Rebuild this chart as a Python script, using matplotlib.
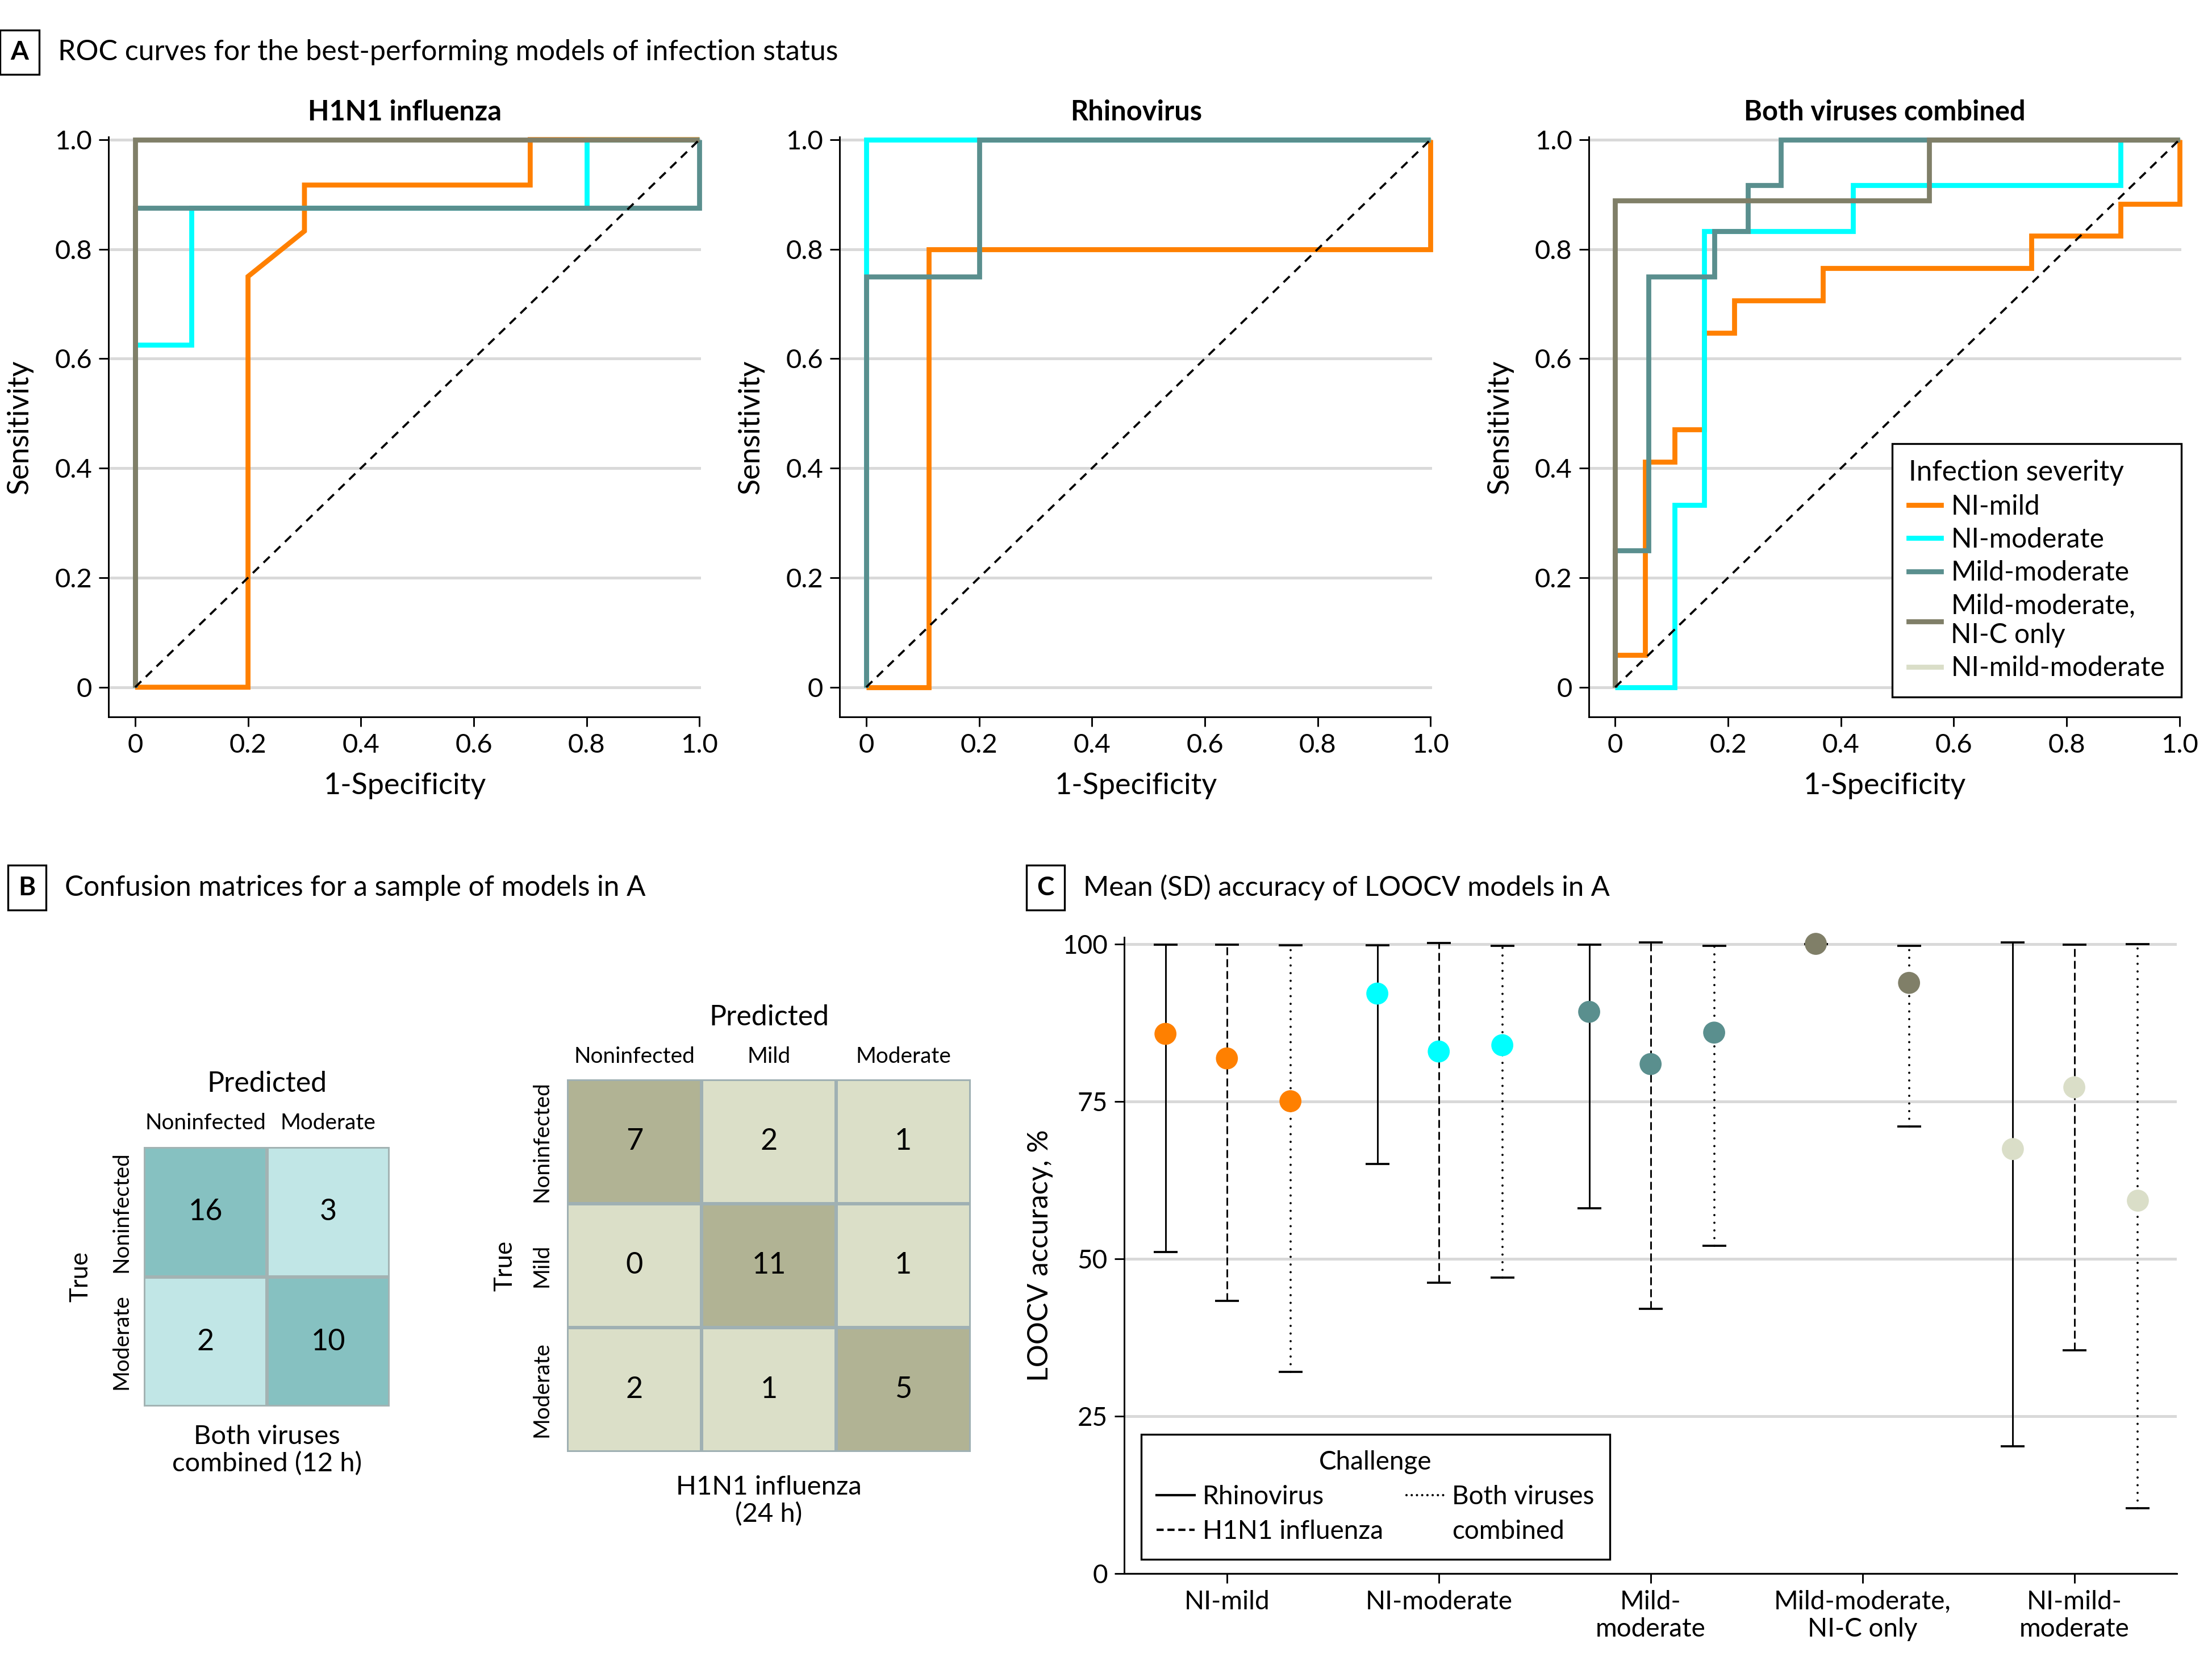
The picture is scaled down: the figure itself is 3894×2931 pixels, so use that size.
import numpy as np
import matplotlib
matplotlib.use("Agg")
import matplotlib.pyplot as plt
import matplotlib.transforms as mtransforms
from matplotlib.lines import Line2D
from matplotlib.colors import ListedColormap

plt.rcParams['font.family'] = ['Lato', 'DejaVu Sans']

# ---------------- data ----------------
severity = ["NI-mild", "NI-moderate", "Mild-moderate", "Mild-moderate,\nNI-C only", "NI-mild-moderate"]
sev_colors = ["#FF8000", "#00FFFF", "#5A8F8E", "#807F68", "#DADEC8"]

# ROC curves (1-specificity, sensitivity) per severity model
h1n1_fpr = [[0, 0.2, 0.2, 0.3, 0.3, 0.7, 0.7, 1.0],
            [0, 0, 0.1, 0.1, 0.8, 0.8, 1.0],
            [0, 0, 1.0, 1.0],
            [0, 0, 1.0]]
h1n1_tpr = [[0, 0, 0.75, 0.833, 0.917, 0.917, 1.0, 1.0],
            [0, 0.625, 0.625, 0.875, 0.875, 1.0, 1.0],
            [0, 0.875, 0.875, 1.0],
            [0, 1.0, 1.0]]

rhino_fpr = [[0, 0.111, 0.111, 1.0, 1.0],
             [0, 0, 1.0],
             [0, 0, 0.2, 0.2, 1.0]]
rhino_tpr = [[0, 0, 0.8, 0.8, 1.0],
             [0, 1.0, 1.0],
             [0, 0.75, 0.75, 1.0, 1.0]]

both_fpr = [[0, 0, 0.053, 0.053, 0.105, 0.105, 0.158, 0.158, 0.211, 0.211, 0.368, 0.368, 0.737, 0.737, 0.895, 0.895, 1.0, 1.0],
            [0, 0.105, 0.105, 0.158, 0.158, 0.421, 0.421, 0.895, 0.895, 1.0],
            [0, 0, 0.059, 0.059, 0.176, 0.176, 0.235, 0.235, 0.294, 0.294, 1.0],
            [0, 0, 0.556, 0.556, 1.0]]
both_tpr = [[0, 0.059, 0.059, 0.412, 0.412, 0.471, 0.471, 0.647, 0.647, 0.706, 0.706, 0.765, 0.765, 0.824, 0.824, 0.882, 0.882, 1.0],
            [0, 0, 0.333, 0.333, 0.833, 0.833, 0.917, 0.917, 1.0, 1.0],
            [0, 0.25, 0.25, 0.75, 0.75, 0.833, 0.833, 0.917, 0.917, 1.0, 1.0],
            [0, 0.889, 0.889, 1.0, 1.0]]

roc_titles = ["H1N1 influenza", "Rhinovirus", "Both viruses combined"]
roc_ticks = [0, 0.2, 0.4, 0.6, 0.8, 1.0]
roc_ticklabels = ["0", "0.2", "0.4", "0.6", "0.8", "1.0"]

# Confusion matrices
cm1 = np.array([[16, 3], [2, 10]])
cm1_labels = ["Noninfected", "Moderate"]
cm2 = np.array([[7, 2, 1], [0, 11, 1], [2, 1, 5]])
cm2_labels = ["Noninfected", "Mild", "Moderate"]

# LOOCV accuracy (mean and SD range), per severity group, per challenge
groups = ["NI-mild", "NI-moderate", "Mild-\nmoderate", "Mild-moderate,\nNI-C only", "NI-mild-\nmoderate"]
challenges = ["Rhinovirus", "H1N1 influenza", "Both viruses\ncombined"]
nan = np.nan
acc_mean = np.array([[85.7, 92.1, 89.2, nan, 67.4],
                     [81.8, 82.9, 80.9, 100.0, 77.2],
                     [75.0, 83.9, 85.9, 93.8, 59.2]])
acc_low = np.array([[51.0, 65.0, 58.0, nan, 20.2],
                    [43.3, 46.2, 42.0, 100.0, 35.4],
                    [32.0, 47.0, 52.0, 71.0, 10.3]])
acc_high = np.array([[99.9, 99.8, 99.9, nan, 100.2],
                     [99.9, 100.1, 100.2, 100.0, 99.9],
                     [99.8, 99.7, 99.7, 99.7, 100.0]])

# ---------------- figure ----------------
fig = plt.figure(figsize=(3894 / 300, 2931 / 300), dpi=300)
FS = 11

def panel_label(x, y, letter, title, tsize):
    fig.text(x, y, letter, fontsize=FS, fontweight='bold', ha='center', va='center',
             bbox=dict(boxstyle='square,pad=0.4', fc='white', ec='black', lw=0.8))
    fig.text(x + 0.0172, y, title, fontsize=tsize, ha='left', va='center')

panel_label(0.0089, 0.9686, "A", "ROC curves for the best-performing models of infection status", 12.0)
panel_label(0.0121, 0.4669, "B", "Confusion matrices for a sample of models in A", 11.9)
panel_label(0.4726, 0.4669, "C", "Mean (SD) accuracy of LOOCV models in A", 11.7)

# ---------------- Panel A ----------------
roc_sets = [(h1n1_fpr, h1n1_tpr), (rhino_fpr, rhino_tpr), (both_fpr, both_tpr)]
lefts = [0.0491, 0.3796, 0.7182]
for k, (fprs, tprs) in enumerate(roc_sets):
    ax = fig.add_axes([lefts[k], 0.5695, 0.2679, 0.3483])
    for i, (fx, ty) in enumerate(zip(fprs, tprs)):
        ax.plot(fx, ty, color=sev_colors[i], lw=2.1, solid_joinstyle='miter',
                solid_capstyle='butt', zorder=3 + i * 0.1, clip_on=False)
    ax.plot([0, 1], [0, 1], color='black', lw=0.9, ls=(0, (4, 3)), zorder=5)
    ax.set_xlim(-0.047, 1.003)
    ax.set_ylim(-0.054, 1.005)
    ax.set_xticks(roc_ticks, roc_ticklabels)
    ax.set_yticks(roc_ticks, roc_ticklabels)
    ax.grid(axis='y', color='#D9D9D9', lw=1.2)
    ax.set_axisbelow(True)
    for s in ['top', 'right']:
        ax.spines[s].set_visible(False)
    for s in ['left', 'bottom']:
        ax.spines[s].set_linewidth(0.7)
    ax.spines['bottom'].set_bounds(-0.047, 1.0)
    ax.tick_params(direction='out', length=4, width=0.7, labelsize=11.3, pad=3)
    ax.set_xlabel("1-Specificity", fontsize=12.5, labelpad=6.5)
    ax.set_ylabel("Sensitivity", fontsize=12.5, labelpad=9)
    ax.set_title(roc_titles[k], fontsize=11.7, fontweight='bold', pad=7)
    if k == 2:
        handles = [Line2D([], [], color=c, lw=2.1) for c in sev_colors]
        leg = ax.legend(handles, severity, title="Infection severity", loc='lower right',
                        bbox_to_anchor=(1.0, 0.034), borderaxespad=0, fontsize=11.5,
                        title_fontsize=11.9, alignment='left', fancybox=False,
                        edgecolor='black', framealpha=1, handlelength=1.2,
                        handletextpad=0.35, labelspacing=0.3, borderpad=0.6)
        leg.get_frame().set_linewidth(0.8)

# ---------------- Panel B ----------------
def draw_cm(rect, cm, labels, light, dark, edge, bottom_text, pred_y, col_y, row_x, true_x, bot_y):
    ax = fig.add_axes(rect)
    n = cm.shape[0]
    ax.pcolormesh(np.eye(n), cmap=ListedColormap([light, dark]), edgecolors=edge, linewidth=1.0)
    ax.set_xlim(0, n)
    ax.set_ylim(n, 0)
    for i in range(n):
        for j in range(n):
            ax.text(j + 0.5, i + 0.5, str(cm[i, j]), ha='center', va='center', fontsize=12.5)
    ax.set_xticks([])
    ax.set_yticks([])
    for s in ax.spines.values():
        s.set_visible(False)
    tx = mtransforms.blended_transform_factory(ax.transData, ax.transAxes)
    ty = mtransforms.blended_transform_factory(ax.transAxes, ax.transData)
    for j, lab in enumerate(labels):
        ax.text(j + 0.5, col_y, lab, transform=tx, ha='center', va='center', fontsize=9.3)
        ax.text(row_x, j + 0.5, lab, transform=ty, ha='center', va='center', fontsize=9.3, rotation=90)
    ax.text(0.5, pred_y, "Predicted", transform=ax.transAxes, ha='center', va='center', fontsize=12)
    ax.text(true_x, 0.5, "True", transform=ax.transAxes, ha='center', va='center', fontsize=10.5, rotation=90)
    ax.text(0.5, bot_y, bottom_text, transform=ax.transAxes, ha='center', va='center', fontsize=11.3,
            linespacing=1.15)

draw_cm([0.0651, 0.1551, 0.1110, 0.1559], cm1, cm1_labels, "#C1E6E6", "#86C1C1", "#A3B3B3",
        "Both viruses\ncombined (12 h)", 1.245, 1.092, -0.092, -0.259, -0.168)
draw_cm([0.2564, 0.1280, 0.1824, 0.2237], cm2, cm2_labels, "#DBDFC8", "#B1B394", "#9FB0B3",
        "H1N1 influenza\n(24 h)", 1.167, 1.061, -0.063, -0.154, -0.131)

# ---------------- Panel C ----------------
axc = fig.add_axes([0.5083, 0.0551, 0.4758, 0.3818])
styles = ['-', (0, (4.8, 2.4)), (0, (0.01, 3.4))]
elws = [0.7, 0.7, 0.95]
gx = np.arange(len(groups))
for c in range(len(challenges)):
    xs, ms, lo, hi, cols = [], [], [], [], []
    for g in range(len(groups)):
        if np.isnan(acc_mean[c, g]):
            continue
        present = [cc for cc in range(len(challenges)) if not np.isnan(acc_mean[cc, g])]
        if len(present) == 3:
            off = [-0.29, 0.0, 0.3][c]
        else:
            off = -0.22 if present.index(c) == 0 else 0.22
        xs.append(g + off)
        ms.append(acc_mean[c, g])
        lo.append(acc_low[c, g])
        hi.append(acc_high[c, g])
        cols.append(sev_colors[g])
    xs, ms, lo, hi = map(np.array, (xs, ms, lo, hi))
    eb = axc.errorbar(xs, ms, yerr=[ms - lo, hi - ms], fmt='none', ecolor='black',
                      elinewidth=elws[c], capsize=5, capthick=0.9, zorder=2)
    for cl in eb[1]:
        cl.set_clip_on(False)
    lc = eb[2][0]
    lc.set_linestyle(styles[c])
    lc.set_clip_on(False)
    if c == 2:
        lc.set_capstyle('round')
    axc.scatter(xs, ms, s=9.3 ** 2, c=cols, zorder=3, linewidths=0, clip_on=False)

axc.set_xlim(-0.484, 4.484)
axc.set_ylim(0, 101)
axc.set_yticks([0, 25, 50, 75, 100])
axc.set_xticks(gx, groups)
axc.grid(axis='y', color='#D9D9D9', lw=1.2)
axc.set_axisbelow(True)
for s in ['top', 'right']:
    axc.spines[s].set_visible(False)
for s in ['left', 'bottom']:
    axc.spines[s].set_linewidth(0.7)
axc.tick_params(direction='out', length=4, width=0.7, labelsize=FS, pad=3)
axc.set_ylabel("LOOCV accuracy, %", fontsize=12, labelpad=4)

# legend: two columns; the second label is split over two rows so the rows line up
leg_labels = [challenges[0], challenges[1]] + challenges[2].split("\n")
chandles = [Line2D([], [], color='black', lw=1.0, ls='-'),
            Line2D([], [], color='black', lw=1.0, ls=(0, (3, 1.6))),
            Line2D([], [], color='black', lw=1.0, ls=(0, (0.01, 2.2)), dash_capstyle='round'),
            Line2D([], [], color='none', lw=0)]
legc = axc.legend(chandles, leg_labels, title="Challenge", ncol=2, loc='lower left',
                  bbox_to_anchor=(0.016, 0.022), borderaxespad=0, fontsize=FS, title_fontsize=FS,
                  fancybox=False, edgecolor='black', framealpha=1, handlelength=1.45,
                  handletextpad=0.3, labelspacing=0.42, borderpad=0.6, columnspacing=0.9)
legc.get_frame().set_linewidth(0.8)

fig.savefig("out.png", dpi=300)
